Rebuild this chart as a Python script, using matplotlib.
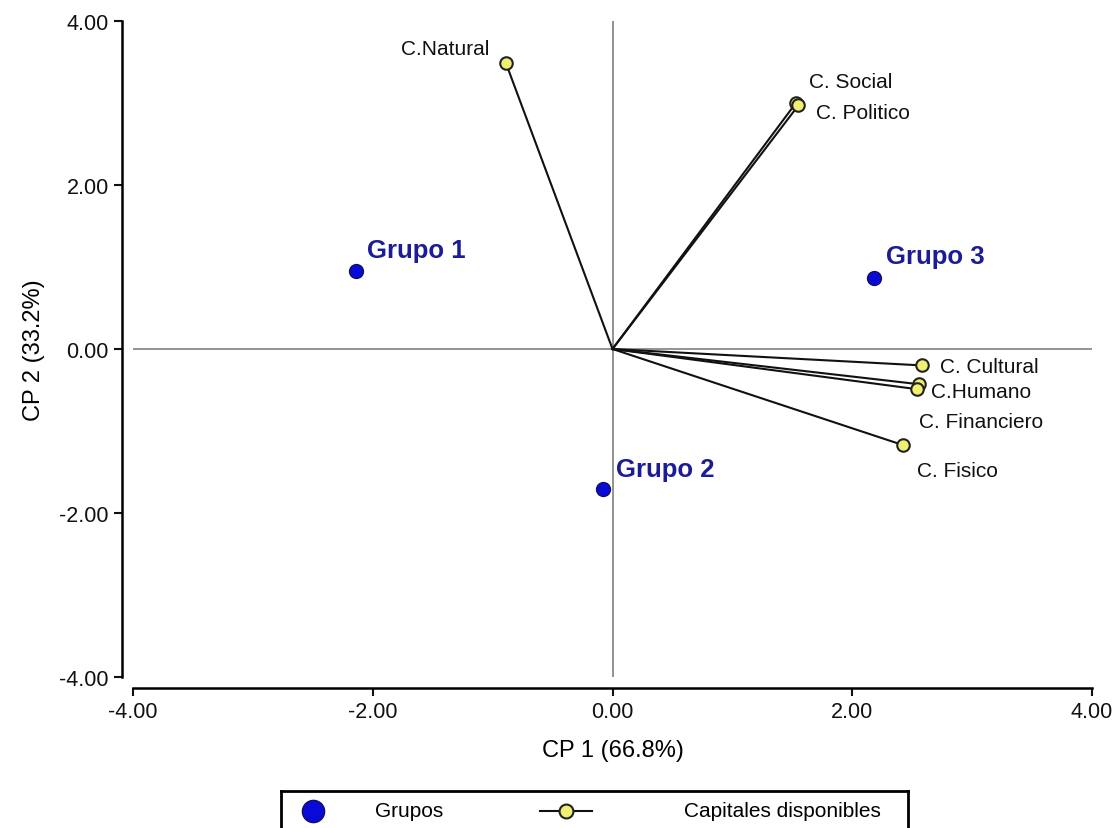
import matplotlib
matplotlib.use("Agg")
import matplotlib.pyplot as plt

plt.rcParams['font.family'] = ['Liberation Sans', 'DejaVu Sans']

# Group scores
group_names = ["Grupo 1", "Grupo 2", "Grupo 3"]
group_x = [-2.14, -0.08, 2.18]
group_y = [0.95, -1.71, 0.87]

# Capital loadings
cap_names = ["C.Natural", "C. Social", "C. Politico", "C. Cultural",
             "C.Humano", "C. Financiero", "C. Fisico"]
cap_x = [-0.89, 1.53, 1.55, 2.58, 2.56, 2.54, 2.42]
cap_y = [3.49, 3.00, 2.97, -0.20, -0.43, -0.49, -1.17]

x_ticks = [-4, -2, 0, 2, 4]
y_ticks = [-4, -2, 0, 2, 4]

# label offsets in pixels (dx right, dy up)
cap_offsets = {
    "C.Natural": (-16, 14, "right"),
    "C. Social": (13, 21, "left"),
    "C. Politico": (18, -7, "left"),
    "C. Cultural": (18, -1, "left"),
    "C.Humano": (12, -7, "left"),
    "C. Financiero": (2, -32, "left"),
    "C. Fisico": (14, -26, "left"),
}
group_offsets = [(11, 21), (13, 20), (12, 22)]

W, H = 1116, 829
fig = plt.figure(figsize=(W / 100, H / 100), dpi=100)
ax = fig.add_axes([133 / W, (H - 678) / H, 959 / W, 656 / H])

ax.set_xlim(-4, 4)
ax.set_ylim(-4, 4)
ax.axhline(0, color="#808080", lw=1.2, zorder=1)
ax.axvline(0, color="#808080", lw=1.2, zorder=1)

yellow = "#f0f070"
for name, x, y in zip(cap_names, cap_x, cap_y):
    ax.plot([0, x], [0, y], color="#111111", lw=1.5, zorder=2)
    ax.plot(x, y, "o", ms=9, mfc=yellow, mec="#222222", mew=1.5, zorder=3)
    dx, dy, ha = cap_offsets[name]
    ax.annotate(name, (x, y), xytext=(dx * 0.72, dy * 0.72), textcoords="offset points",
                ha=ha, va="center", fontsize=15, color="#111111")

ax.plot(group_x, group_y, "o", ls="none", ms=10, mfc="#0a0ad8", mec="#101060", mew=1, zorder=3)
for name, x, y, (dx, dy) in zip(group_names, group_x, group_y, group_offsets):
    ax.annotate(name, (x, y), xytext=(dx * 0.72, dy * 0.72), textcoords="offset points",
                ha="left", va="center", fontsize=18.5, fontweight="bold", color="#1c1c96")

ax.set_xticks(x_ticks)
ax.set_yticks(y_ticks)
ax.set_xticklabels([f"{v:.2f}" for v in x_ticks])
ax.set_yticklabels([f"{v:.2f}" for v in y_ticks])
ax.tick_params(labelsize=15.5, length=6, width=1.5, colors="#111111")
for s in ["top", "right"]:
    ax.spines[s].set_visible(False)
for s in ["left", "bottom"]:
    ax.spines[s].set_position(("outward", 8))
    ax.spines[s].set_linewidth(1.8)
ax.set_xlabel("CP 1 (66.8%)", fontsize=17, labelpad=12)
ax.set_ylabel("CP 2 (33.2%)", fontsize=17, labelpad=10)

# legend box, cut by the bottom edge
lax = fig.add_axes([281 / W, 0, 627 / W, 37 / H])
lax.set_xlim(0, 627)
lax.set_ylim(37, 0)
lax.set_xticks([])
lax.set_yticks([])
lax.patch.set_alpha(0)
lax.spines["bottom"].set_visible(False)
for s in ["top", "left", "right"]:
    lax.spines[s].set_linewidth(2)
lax.plot(32, 20, "o", ms=16, mfc="#0a0ad8", mec="#101060", mew=1)
lax.text(94, 20, "Grupos", fontsize=15, va="center")
lax.plot([259, 311], [20, 20], color="#111111", lw=1.5)
lax.plot(285, 20, "o", ms=10, mfc=yellow, mec="#222222", mew=1.5)
lax.text(403, 20, "Capitales disponibles", fontsize=15, va="center")

fig.savefig("out.png", dpi=100)
